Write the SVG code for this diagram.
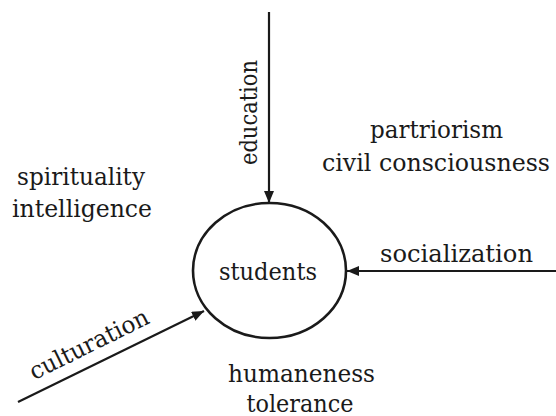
<svg xmlns="http://www.w3.org/2000/svg" width="556" height="416" viewBox="0 0 556 416">
<style>
text{font-family:"DejaVu Serif","Liberation Serif",serif;font-size:24px;fill:#1a1a1a;text-anchor:middle}
.conn{stroke:#1a1a1a;stroke-width:2.2;fill:none;marker-end:url(#ah)}
</style>
<defs>
<marker id="ah" markerUnits="userSpaceOnUse" markerWidth="14" markerHeight="12" refX="12" refY="5" orient="auto">
<path d="M0,0 L12,5 L0,10 Z" fill="#1a1a1a"/>
</marker>
</defs>
<rect width="556" height="416" fill="#fff"/>
<g id="connectors">
<line class="conn" x1="269" y1="12" x2="269" y2="203"/>
<line class="conn" x1="556" y1="271" x2="347" y2="271"/>
<line class="conn" x1="18" y1="402" x2="204" y2="311"/>
<text transform="translate(257,112.5) rotate(-90)" textLength="105" lengthAdjust="spacingAndGlyphs">education</text>
<text x="456.5" y="262" textLength="153" lengthAdjust="spacingAndGlyphs">socialization</text>
<text transform="translate(92.5,351.5) rotate(-26.3)" textLength="130" lengthAdjust="spacingAndGlyphs">culturation</text>
</g>
<g id="students">
<ellipse cx="269.5" cy="270.5" rx="76.5" ry="67.5" fill="none" stroke="#1a1a1a" stroke-width="2.6"/>
<text x="268" y="280" textLength="98" lengthAdjust="spacingAndGlyphs">students</text>
</g>
<g id="spirituality">
<text x="81" y="185" textLength="128" lengthAdjust="spacingAndGlyphs">spirituality</text>
<text x="82" y="216.5" textLength="140" lengthAdjust="spacingAndGlyphs">intelligence</text>
</g>
<g id="partriorism">
<text x="436.5" y="138" textLength="133" lengthAdjust="spacingAndGlyphs">partriorism</text>
<text x="436" y="171" textLength="228" lengthAdjust="spacingAndGlyphs">civil consciousness</text>
</g>
<g id="humaneness">
<text x="301.5" y="381.5" textLength="147" lengthAdjust="spacingAndGlyphs">humaneness</text>
<text x="300" y="411.5" textLength="107" lengthAdjust="spacingAndGlyphs">tolerance</text>
</g>
</svg>
